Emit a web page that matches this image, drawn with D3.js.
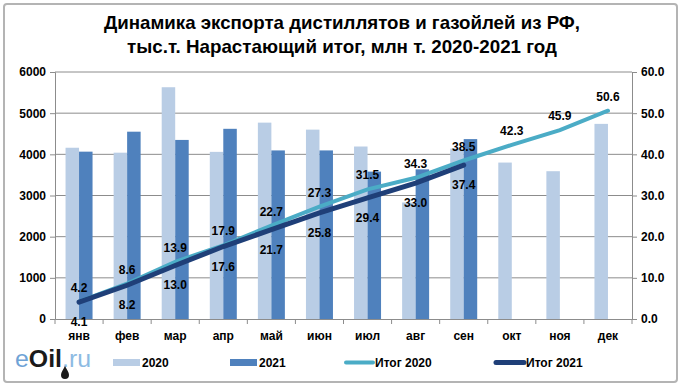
<!DOCTYPE html>
<html><head><meta charset="utf-8">
<script src="https://cdn.jsdelivr.net/npm/d3@7"></script>
<style>body{margin:0;background:#fff}svg{display:block}</style>
</head><body>
<script>
const months = ["янв","фев","мар","апр","май","июн","июл","авг","сен","окт","ноя","дек"];
const bars2020 = [4160,4040,5630,4060,4770,4600,4190,2830,4140,3800,3590,4740];
const bars2021 = [4065,4550,4350,4620,4095,4095,3580,3635,4370];
const itog2020 = [4.2,8.6,13.9,17.9,22.7,27.3,31.5,34.3,38.5,42.3,45.9,50.6];
const itog2021 = [4.1,8.2,13.0,17.6,21.7,25.8,29.4,33.0,37.4];
const leftTicks = [0,1000,2000,3000,4000,5000,6000];
const rightTicks = [0,10,20,30,40,50,60];
const titleLines = ["Динамика экспорта дистиллятов и газойлей из РФ,","тыс.т. Нарастающий итог, млн т. 2020-2021 год"];

const W=682,H=389;
const m={l:55,r:632,t:72,b:319};
const svg=d3.select("body").append("svg").attr("width",W).attr("height",H);
svg.append("rect").attr("x",4).attr("y",4).attr("width",673).attr("height",378)
  .attr("fill","#fff").attr("stroke","#b4b4b4").attr("stroke-width",2).attr("rx",3);

const font="'Liberation Sans', Arial, sans-serif";
svg.selectAll("text.title").data(titleLines).join("text")
  .attr("x",342).attr("y",(d,i)=>29+i*24).attr("text-anchor","middle")
  .attr("font-family",font).attr("font-weight","bold").attr("font-size",19)
  .attr("textLength",(d,i)=>i==0?476:430).attr("lengthAdjust","spacingAndGlyphs")
  .text(d=>d);

const x=d3.scaleBand().domain(months).range([m.l,m.r]);
const yL=d3.scaleLinear().domain([0,6000]).range([m.b,m.t]);
const yR=d3.scaleLinear().domain([0,60]).range([m.b,m.t]);

// grid
svg.append("g").selectAll("line").data(leftTicks.slice(1)).join("line")
  .attr("x1",m.l).attr("x2",m.r).attr("y1",d=>yL(d)).attr("y2",d=>yL(d))
  .attr("stroke","#8c8c8c").attr("stroke-width",1);

// bars
const bw=13.5;
svg.append("g").selectAll("rect").data(bars2020).join("rect")
  .attr("x",(d,i)=>x(months[i])+x.bandwidth()/2-bw).attr("width",bw)
  .attr("y",d=>yL(d)).attr("height",d=>m.b-yL(d)).attr("fill","#b9cde5");
svg.append("g").selectAll("rect").data(bars2021).join("rect")
  .attr("x",(d,i)=>x(months[i])+x.bandwidth()/2).attr("width",bw)
  .attr("y",d=>yL(d)).attr("height",d=>m.b-yL(d)).attr("fill","#4f81bd");

// axes
const axL=svg.append("g").attr("transform",`translate(${m.l},0)`)
  .call(d3.axisLeft(yL).tickValues(leftTicks).tickSize(5).tickPadding(4).tickFormat(d3.format("d")));
const axR=svg.append("g").attr("transform",`translate(${m.r},0)`)
  .call(d3.axisRight(yR).tickValues(rightTicks).tickSize(5).tickPadding(4).tickFormat(d3.format(".1f")));
const axB=svg.append("g").attr("transform",`translate(0,${m.b})`)
  .call(d3.axisBottom(x).tickSize(0).tickPadding(12));
[axL,axR,axB].forEach(a=>{
  a.selectAll("path").attr("stroke","#8c8c8c");
  a.selectAll("line").attr("stroke","#8c8c8c");
  a.selectAll("text").attr("font-family",font).attr("font-weight","bold").attr("font-size",12).attr("fill","#000");
});
svg.append("g").selectAll("line").data(d3.range(13)).join("line")
  .attr("x1",i=>m.l+i*x.step()).attr("x2",i=>m.l+i*x.step())
  .attr("y1",m.b).attr("y2",m.b+5).attr("stroke","#8c8c8c");

// lines
const cx=i=>x(months[i])+x.bandwidth()/2;
const line=d3.line().x((d,i)=>cx(i)).y(d=>yR(d));
svg.append("path").datum(itog2020).attr("d",line).attr("fill","none")
  .attr("stroke","#4bacc6").attr("stroke-width",4).attr("stroke-linecap","round");
svg.append("path").datum(itog2021).attr("d",line).attr("fill","none")
  .attr("stroke","#1f3f78").attr("stroke-width",5).attr("stroke-linecap","round");

// labels
svg.append("g").selectAll("text").data(itog2020).join("text")
  .attr("x",(d,i)=>cx(i)).attr("y",d=>yR(d)-10).attr("text-anchor","middle")
  .attr("font-family",font).attr("font-weight","bold").attr("font-size",12).text(d=>d.toFixed(1));
svg.append("g").selectAll("text").data(itog2021).join("text")
  .attr("x",(d,i)=>cx(i)).attr("y",d=>yR(d)+24).attr("text-anchor","middle")
  .attr("font-family",font).attr("font-weight","bold").attr("font-size",12).text(d=>d.toFixed(1));

// legend
const lg=svg.append("g").attr("font-family",font).attr("font-weight","bold").attr("font-size",12);
lg.append("rect").attr("x",113).attr("y",359).attr("width",27).attr("height",7).attr("fill","#b9cde5");
lg.append("text").attr("x",142).attr("y",367).text("2020");
lg.append("rect").attr("x",230).attr("y",359).attr("width",27).attr("height",7).attr("fill","#4f81bd");
lg.append("text").attr("x",259).attr("y",367).text("2021");
lg.append("line").attr("x1",346).attr("x2",373).attr("y1",362.5).attr("y2",362.5).attr("stroke","#4bacc6").attr("stroke-width",4).attr("stroke-linecap","round");
lg.append("text").attr("x",375).attr("y",367).text("Итог 2020");
lg.append("line").attr("x1",496).attr("x2",524).attr("y1",362.5).attr("y2",362.5).attr("stroke","#1f3f78").attr("stroke-width",5).attr("stroke-linecap","round");
lg.append("text").attr("x",526).attr("y",367).text("Итог 2021");

// logo
const logo=svg.append("g").attr("font-family","'Liberation Sans', Arial, sans-serif").attr("font-size",23);
const t=logo.append("text").attr("x",15).attr("y",367).attr("textLength",76).attr("lengthAdjust","spacingAndGlyphs");
t.append("tspan").attr("fill","#6fa3d6").text("e");
t.append("tspan").attr("fill","#1a1a1a").attr("font-weight","bold").text("Oil");
t.append("tspan").attr("fill","#8dbbe3").text(".ru");
logo.append("path").attr("d","M65,366 C63,370 61,372 61,375 A4,4 0 0 0 69,375 C69,372 67,370 65,366Z").attr("fill","#1a1a1a");
</script>
</body></html>
